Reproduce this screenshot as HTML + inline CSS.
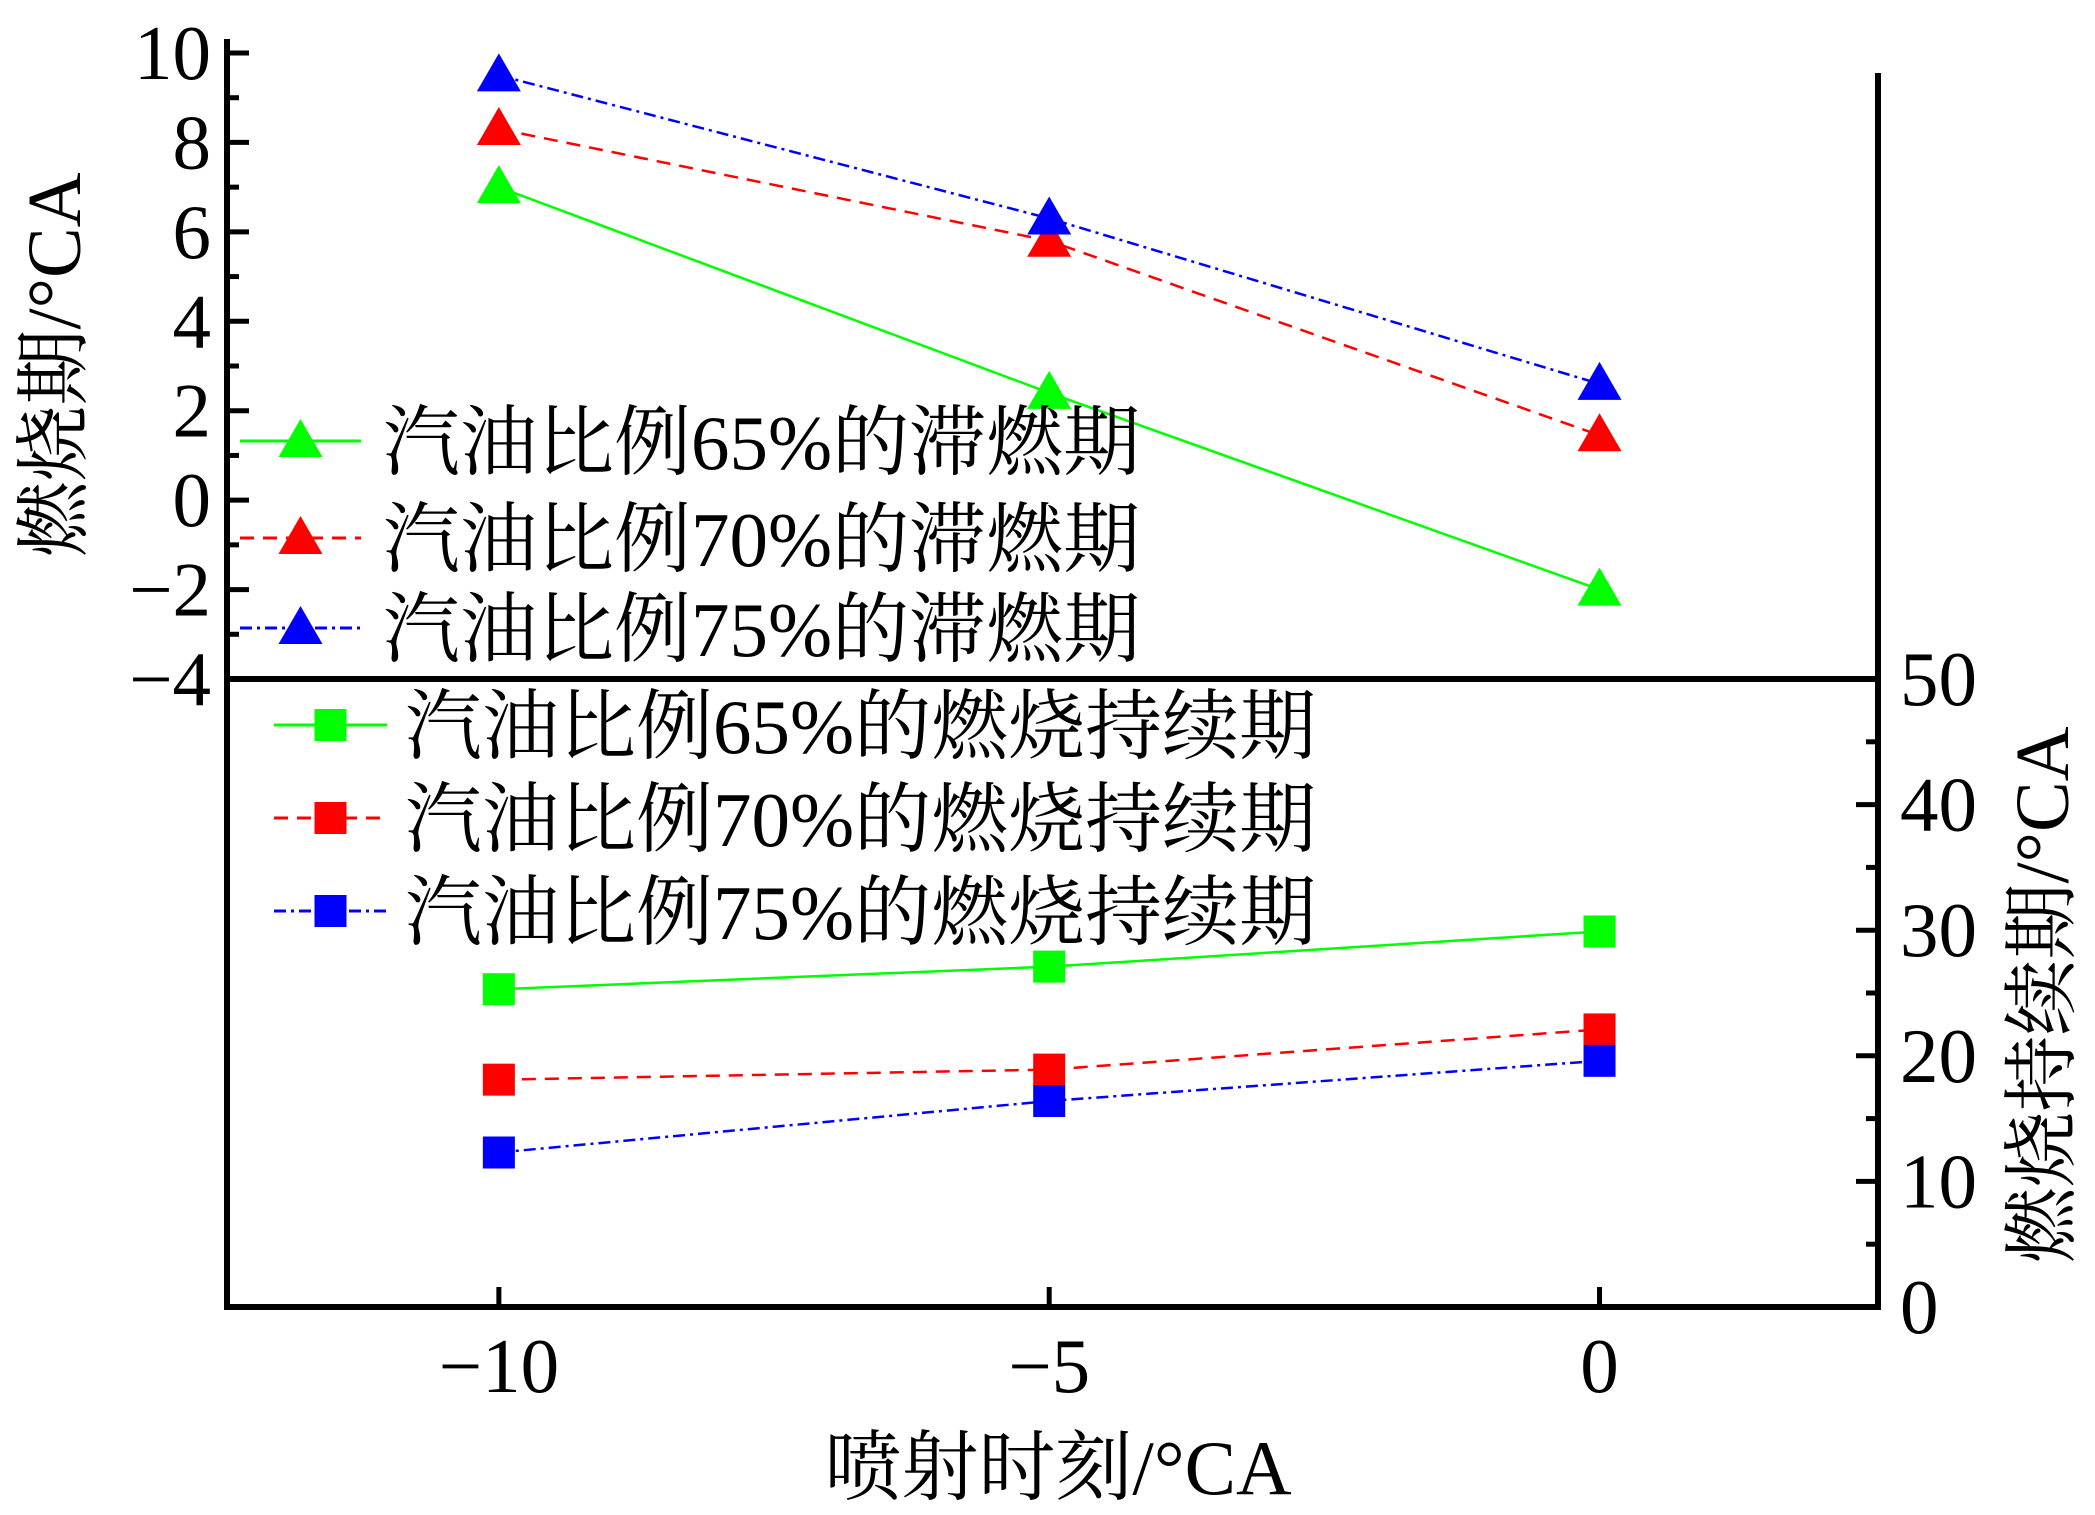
<!DOCTYPE html>
<html><head><meta charset="utf-8"><style>
html,body{margin:0;padding:0;background:#fff}
svg{display:block}
text{font-family:"Liberation Serif","Noto Serif CJK SC",serif;fill:#000}
</style></head><body>
<svg id="chart" width="2095" height="1515" viewBox="0 0 2095 1515" xmlns="http://www.w3.org/2000/svg"></svg>
<script>
const categories=[-10,-5,0];
const delay65=[7.0,2.4,-2.0];
const delay70=[8.3,5.8,1.45];
const delay75=[9.5,6.3,2.6];
const dur65=[25.3,27.1,29.9];
const dur70=[18.1,18.9,22.1];
const dur75=[12.3,16.4,19.6];
const xTicks=[-10,-5,0];
const yTicksLeft=[10,8,6,4,2,0,-2,-4];
const yTicksRight=[50,40,30,20,10,0];

const NS="http://www.w3.org/2000/svg";
const svg=document.getElementById('chart');
const L=227,R=1878,T=53,MID=679,B=1307;
const X=v=>L+(v+12.47)*(R-L)/15;
const YU=v=>MID-(v+4)*(MID-T)/14;
const YL=v=>B-v*(B-MID)/50;
function mk(tag,a,parent){const e=document.createElementNS(NS,tag);for(const k in a)e.setAttribute(k,a[k]);(parent||svg).appendChild(e);return e;}
function txt(s,a,parent){const e=mk('text',a,parent);e.textContent=s;return e;}

let g=mk('g',{});


mk('line',{x1:L,y1:T-14,x2:L,y2:B+3,stroke:'#000','stroke-width':6},g);
mk('line',{x1:R,y1:73,x2:R,y2:B+3,stroke:'#000','stroke-width':6},g);
mk('line',{x1:L-3,y1:B,x2:R+3,y2:B,stroke:'#000','stroke-width':6},g);
mk('line',{x1:L-3,y1:MID,x2:R+3,y2:MID,stroke:'#000','stroke-width':6},g);
for(let v=-4;v<=10;v++){const maj=v%2===0;mk('line',{x1:L,y1:YU(v),x2:L+(maj?22:12),y2:YU(v),stroke:'#000','stroke-width':5},g);}
yTicksLeft.forEach(v=>{const t=txt(v<0?'\u2212'+Math.abs(v):String(v),{x:L-16,y:YU(v)+26,'font-size':77,'text-anchor':'end'});
});
for(let v=0;v<=50;v+=5){const maj=v%10===0;mk('line',{x1:R,y1:YL(v),x2:R-(maj?22:12),y2:YL(v),stroke:'#000','stroke-width':5},g);}
yTicksRight.forEach(v=>{const t=txt(String(v),{x:R+22,y:YL(v)+26,'font-size':77});
});
xTicks.forEach(v=>{mk('line',{x1:X(v),y1:B,x2:X(v),y2:B-20,stroke:'#000','stroke-width':5},g);
const t=txt(v<0?'\u2212'+Math.abs(v):String(v),{x:X(v),y:1392,'font-size':77,'text-anchor':'middle'});
});

let t1=txt('燃烧期/°CA',{x:0,y:0,'font-size':76,'text-anchor':'middle',transform:'translate(80,365) rotate(-90)'});

let t2=txt('燃烧持续期/°CA',{x:0,y:0,'font-size':76,'text-anchor':'middle',transform:'translate(2068,995) rotate(-90)'});

let t3=txt('喷射时刻/°CA',{x:1058,y:1494,'font-size':77,'text-anchor':'middle'});


const styles={g:{c:'#00ff00',d:''},r:{c:'#ff0000',d:'14,9'},b:{c:'#0000ff',d:'12,5,3,5'}};
function tri(x,y,c,p){return mk('polygon',{points:`${x},${y-22} ${x-22},${y+16} ${x+22},${y+16}`,fill:c},p);}
function sq(x,y,c,p){return mk('rect',{x:x-16,y:y-16,width:32,height:32,fill:c},p);}
function series(name,vals,Y,st,marker){
  const sg=mk('g',{});
  
  
  const pts=vals.map((v,i)=>X(categories[i])+','+Y(v)).join(' ');
  mk('polyline',{points:pts,fill:'none',stroke:st.c,'stroke-width':2.5,'stroke-dasharray':st.d},sg);
  vals.forEach((v,i)=>marker(X(categories[i]),Y(v),st.c,sg));
}
series('series-delay-65',delay65,YU,styles.g,tri);
series('series-delay-70',delay70,YU,styles.r,tri);
series('series-delay-75',delay75,YU,styles.b,tri);
series('series-duration-65',dur65,YL,styles.g,sq);
series('series-duration-70',dur70,YL,styles.r,sq);
series('series-duration-75',dur75,YL,styles.b,sq);

const leg=[['汽油比例65%的滞燃期',styles.g,tri,441,240,361,383],['汽油比例70%的滞燃期',styles.r,tri,538,240,361,383],['汽油比例75%的滞燃期',styles.b,tri,628,240,361,383],
['汽油比例65%的燃烧持续期',styles.g,sq,725,274,387,405],['汽油比例70%的燃烧持续期',styles.r,sq,818,274,387,405],['汽油比例75%的燃烧持续期',styles.b,sq,911,274,387,405]];
leg.forEach(e=>{
  const lg=mk('g',{});
  
  
  const [s,st,m,y,x1,x2,tx]=e;
  mk('line',{x1:x1,y1:y,x2:x2,y2:y,stroke:st.c,'stroke-width':3,'stroke-dasharray':st.d},lg);
  m((x1+x2)/2,y,st.c,lg);
  txt(s,{x:tx,y:y+28,'font-size':77},lg);
});
</script>
</body></html>
